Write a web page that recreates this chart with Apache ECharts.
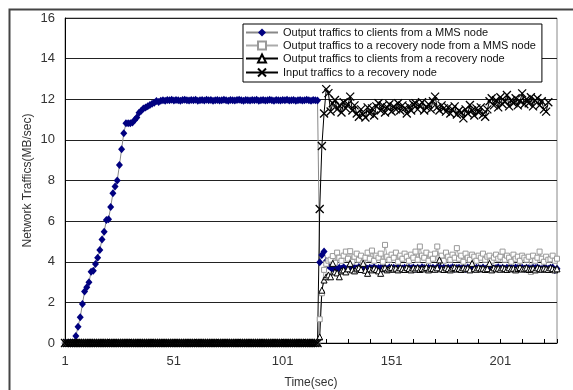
<!DOCTYPE html>
<html><head><meta charset="utf-8">
<script src="https://cdn.jsdelivr.net/npm/echarts@6/dist/echarts.min.js"></script>
<style>html,body{margin:0;padding:0;background:#fff}#c{width:573px;height:390px}</style>
</head><body><div id="c"></div>
<script>
var seriesNames = [
  'Output traffics to clients from a MMS node',
  'Output traffics to a recovery node from a MMS node',
  'Output traffics to clients from a recovery node',
  'Input traffics to a recovery node'
];
var xTickLabels = ['1','51','101','151','201'];
var yTicks = [0,2,4,6,8,10,12,14,16];

// t = 1..117 for the three recovery-related series
var zeros117 = [
0,0,0,0,0,0,0,0,0,0, 0,0,0,0,0,0,0,0,0,0, 0,0,0,0,0,0,0,0,0,0,
0,0,0,0,0,0,0,0,0,0, 0,0,0,0,0,0,0,0,0,0, 0,0,0,0,0,0,0,0,0,0,
0,0,0,0,0,0,0,0,0,0, 0,0,0,0,0,0,0,0,0,0, 0,0,0,0,0,0,0,0,0,0,
0,0,0,0,0,0,0,0,0,0, 0,0,0,0,0,0,0,0,0,0, 0,0,0,0,0,0,0
];

var mmsClients = [
0,0,0,0,0,
0.35,0.8,1.27,1.92,2.53,2.74,2.99,3.51,3.56,3.89,4.2,4.58,5.1,5.48,6.05,6.09,6.7,7.37,7.7,8.0,
8.76,9.54,10.33,10.82,10.82,10.82,10.85,10.98,11.1,11.34,11.44,11.55,11.6,11.65,11.72,11.78,11.83,11.91,11.87,11.93,
11.95,11.93,11.96,11.95,11.97,11.94,11.96,11.95,11.93,11.96,
11.98,11.95,11.94,11.96,11.95,11.97,11.93,11.95,11.96,11.94,
11.97,11.95,11.96,11.93,11.95,11.96,11.94,11.95,11.97,11.95,
11.93,11.96,11.95,11.94,11.96,11.97,11.95,11.93,11.96,11.95,
11.94,11.96,11.95,11.97,11.93,11.95,11.96,11.94,11.95,11.97,
11.95,11.93,11.96,11.95,11.94,11.96,11.95,11.97,11.94,11.95,
11.96,11.93,11.95,11.96,11.94,11.95,11.97,11.95,11.93,11.96,
11.95,11.94,
3.97,4.33,4.5,4.02,3.8,
3.72,3.68,3.75,3.62,3.7,3.66,3.73,3.64,3.69,3.71,
3.65,3.7,3.67,3.74,3.63,3.69,3.72,3.66,3.7,3.68,
3.73,3.65,3.69,3.71,3.67,3.7,3.64,3.72,3.68,3.7,
3.66,3.73,3.69,3.67,3.71,3.65,3.7,3.68,3.72,3.66,
3.7,3.67,3.73,3.69,3.65,3.71,3.68,3.7,3.66,3.72,
3.69,3.67,3.71,3.65,3.7,3.68,3.73,3.66,3.69,3.71,
3.67,3.7,3.64,3.72,3.68,3.7,3.66,3.71,3.69,3.67,
3.72,3.65,3.7,3.68,3.71,3.66,3.69,3.73,3.67,3.7,
3.65,3.71,3.68,3.7,3.66,3.72,3.69,3.67,3.7,3.65,
3.71,3.68,3.66,3.7,3.69,3.72,3.67,3.64,3.7,3.68,
3.66,3.7,3.72,3.6,3.65
];

var mmsToRecoveryTail = [
1.17,2.45,3.6,3.9,4.05,
4.1,4.28,3.95,4.45,4.2,4.05,4.3,4.5,4.15,4.52,
4.0,4.25,4.4,4.1,4.3,3.95,4.2,4.45,4.15,4.55,
4.05,4.3,4.2,4.4,4.0,4.83,4.25,4.1,4.35,4.2,
4.45,4.0,4.3,4.15,4.4,4.25,4.05,4.35,4.2,4.5,
4.1,4.75,4.3,4.2,4.45,4.05,4.35,4.15,4.4,4.75,
4.2,4.3,4.05,4.45,4.25,4.1,4.35,4.2,4.67,4.15,
4.3,4.0,4.4,4.2,4.1,4.35,4.25,4.05,4.3,4.2,
4.4,4.1,4.25,4.3,4.05,4.2,4.35,4.15,4.25,4.5,
4.1,4.3,4.2,4.0,4.35,4.15,4.25,4.05,4.3,4.2,
4.1,4.25,3.5,4.3,4.05,4.2,4.5,4.15,4.0,4.25,
4.1,4.12,4.3,4.05,4.15
];

var recoveryClientsTail = [
0.3,2.6,3.1,3.26,3.35,
3.26,3.92,3.5,3.45,3.26,3.55,3.6,3.5,3.65,3.92,
3.6,3.55,3.65,3.7,3.62,3.92,3.58,3.43,3.65,3.6,
3.68,3.62,3.55,3.43,3.66,3.7,3.6,3.65,3.72,3.63,
3.68,3.6,3.7,3.65,3.62,3.71,3.66,3.6,3.69,3.64,
3.7,3.62,3.67,3.65,3.72,3.6,3.68,3.66,3.63,3.7,
4.09,3.65,3.62,3.7,3.66,3.6,3.68,3.72,3.64,3.67,
3.62,3.7,3.65,3.68,3.6,3.92,3.66,3.63,3.7,3.65,
3.68,3.62,3.66,3.92,3.6,3.7,3.65,3.68,3.63,3.7,
3.66,3.62,3.7,3.65,3.68,3.6,3.67,3.72,3.64,3.66,
3.7,3.62,3.65,3.68,3.6,3.7,3.66,3.63,3.68,3.65,
3.62,3.7,3.66,3.6,3.65
];

var recoveryInputTail = [
6.6,9.7,11.3,12.5,12.3,
11.4,11.8,11.96,11.5,11.7,11.35,11.85,11.55,11.75,12.13,
11.45,11.7,11.3,11.14,11.5,11.25,11.1,11.6,11.3,11.55,
11.2,11.65,11.8,11.45,11.7,11.35,11.6,11.75,11.4,11.65,
11.5,11.8,11.45,11.7,11.55,11.3,11.65,11.45,11.75,11.8,
11.5,11.7,11.85,11.45,11.6,11.75,11.5,11.9,12.13,11.6,
11.45,11.7,11.55,11.39,11.6,11.3,11.5,11.65,11.25,11.45,
11.35,11.06,11.5,11.3,11.72,11.45,11.2,11.55,11.35,11.6,
11.25,11.14,11.5,11.9,12.05,11.7,11.95,11.6,12.1,11.75,
11.9,12.21,11.65,11.95,11.8,12.05,11.7,11.9,12.29,11.75,
12.0,11.8,12.1,11.65,11.95,12.05,11.7,11.9,11.5,11.39,
11.85,null,null,null,null
];

var mmsToRecovery = zeros117.concat(mmsToRecoveryTail);
var recoveryClients = zeros117.concat(recoveryClientsTail);
var recoveryInput = zeros117.concat(recoveryInputTail);

var categories = [];
for (var i = 1; i <= mmsClients.length; i++) categories.push(String(i));

var FONT = '"Liberation Sans", Arial, sans-serif';
var chart = echarts.init(document.getElementById('c'), null, {renderer: 'canvas'});
chart.setOption({
  animation: false,
  backgroundColor: '#fff',
  graphic: [{
    type: 'rect', left: 7, top: 7, silent: true, z: -10,
    shape: {width: 570, height: 400},
    style: {fill: 'none', stroke: '#444', lineWidth: 2}
  }],
  grid: {left: 65, right: 16, top: 18, bottom: 47, outerBoundsMode: 'none', containLabel: false,
         show: true, borderColor: '#888', borderWidth: 1, backgroundColor: 'transparent'},
  legend: {
    orient: 'vertical', left: 243, top: 24,
    padding: [3, 6, 3, 2], itemGap: 2, itemWidth: 32, itemHeight: 10,
    borderColor: '#000', borderWidth: 1, backgroundColor: '#fff',
    textStyle: {fontFamily: FONT, fontSize: 11, color: '#111'},
    data: seriesNames
  },
  xAxis: {
    type: 'category', data: categories, boundaryGap: false,
    name: 'Time(sec)', nameLocation: 'middle', nameGap: 40, nameMoveOverlap: false,
    nameTextStyle: {fontFamily: FONT, fontSize: 12, color: '#333', verticalAlign: 'middle'},
    axisLine: {lineStyle: {color: '#000', width: 1}},
    axisTick: {inside: true, length: 4, interval: 9, lineStyle: {color: '#000'}},
    axisLabel: {
      interval: 0, margin: 12, fontFamily: FONT, fontSize: 13, color: '#333',
      formatter: function (v) { return xTickLabels.indexOf(v) >= 0 ? v : ''; }
    },
    splitLine: {show: false}
  },
  yAxis: {
    type: 'value', min: yTicks[0], max: yTicks[yTicks.length - 1], interval: 2,
    name: 'Network Traffics(MB/sec)', nameLocation: 'middle', nameGap: 37, nameMoveOverlap: false,
    nameTextStyle: {fontFamily: FONT, fontSize: 12, color: '#333', verticalAlign: 'middle'},
    axisLine: {show: true, lineStyle: {color: '#000', width: 1}},
    axisTick: {show: false},
    axisLabel: {margin: 10, fontFamily: FONT, fontSize: 13, color: '#333'},
    splitLine: {lineStyle: {color: '#222', width: 1}}
  },
  series: [
    {
      name: seriesNames[0], type: 'line', data: mmsClients,
      symbol: 'diamond', symbolSize: [7, 8], showAllSymbol: true,
      itemStyle: {color: '#000080'},
      lineStyle: {color: '#888', width: 1}
    },
    {
      name: seriesNames[1], type: 'line', data: mmsToRecovery,
      symbol: 'rect', symbolSize: 5, showAllSymbol: true,
      itemStyle: {color: '#fff', borderColor: '#999', borderWidth: 1},
      lineStyle: {color: '#aaa', width: 1}
    },
    {
      name: seriesNames[2], type: 'line', data: recoveryClients,
      symbol: 'triangle', symbolSize: 6, showAllSymbol: true,
      itemStyle: {color: '#fff', borderColor: '#000', borderWidth: 1},
      lineStyle: {color: '#000', width: 1}
    },
    {
      name: seriesNames[3], type: 'line', data: recoveryInput,
      symbol: 'path://M0,0L10,10M10,0L0,10', symbolSize: 8, showAllSymbol: true,
      clip: false,
      itemStyle: {color: 'none', borderColor: '#000', borderWidth: 1.3},
      lineStyle: {color: '#000', width: 1}
    }
  ]
});
</script></body></html>
